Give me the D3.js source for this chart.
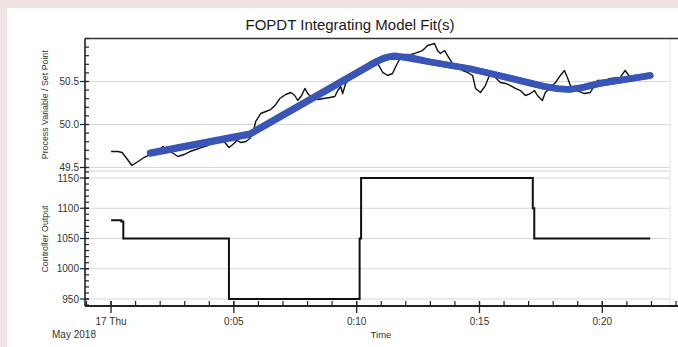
<!DOCTYPE html>
<html><head><meta charset="utf-8">
<script src="https://cdn.jsdelivr.net/npm/d3@7"></script>
<style>
html,body{margin:0;padding:0;background:#f1e3e3;}
svg{display:block;font-family:"Liberation Sans",Arial,sans-serif;}
</style></head>
<body>
<svg id="c" width="678" height="347"></svg>
<script>
// ---- data (minutes since 0:00, 17 Thu May 2018) ----
const pvTime = [0,0.28,0.45,0.61,0.85,1.10,1.34,1.59,1.83,2.00,2.11,2.24,2.48,2.72,2.97,3.21,3.46,3.70,3.94,4.15,4.35,4.51,4.67,4.80,4.96,5.12,5.28,5.49,5.65,5.77,5.89,6.10,6.30,6.50,6.71,6.87,7.11,7.32,7.48,7.60,7.76,7.89,8.01,8.17,8.41,8.66,8.90,9.11,9.23,9.35,9.43,9.55,9.76,10.04,10.33,10.57,10.77,10.93,11.06,11.26,11.46,11.63,11.79,12.07,12.36,12.68,12.89,13.17,13.29,13.41,13.58,13.70,13.90,14.11,14.31,14.51,14.72,14.84,15.04,15.24,15.45,15.65,15.85,16.06,16.26,16.46,16.67,16.87,17.07,17.24,17.36,17.56,17.68,17.89,18.09,18.29,18.46,18.58,18.70,18.98,19.27,19.51,19.80,20.08,20.33,20.73,20.93,21.14,21.42,21.71,21.95];
const pvValue = [49.686,49.686,49.674,49.616,49.523,49.570,49.616,49.651,49.686,49.709,49.744,49.698,49.674,49.628,49.651,49.686,49.709,49.733,49.756,49.802,49.802,49.826,49.779,49.733,49.767,49.814,49.791,49.802,49.837,49.895,50.035,50.128,50.151,50.174,50.233,50.302,50.349,50.372,50.337,50.279,50.337,50.419,50.360,50.314,50.291,50.302,50.314,50.326,50.395,50.442,50.360,50.477,50.547,50.616,50.674,50.733,50.744,50.674,50.605,50.570,50.593,50.698,50.779,50.802,50.826,50.860,50.919,50.942,50.860,50.826,50.860,50.802,50.709,50.674,50.628,50.605,50.570,50.419,50.372,50.453,50.605,50.547,50.488,50.477,50.453,50.419,50.395,50.337,50.360,50.395,50.337,50.279,50.372,50.430,50.488,50.570,50.628,50.547,50.453,50.395,50.360,50.372,50.512,50.512,50.535,50.547,50.628,50.547,50.535,50.558,50.581];

const fit1Time  = [1.59,5.65,11.10,11.55,13.0,14.59,16.3,17.6,18.2,18.7,19.2,19.88,21.95];
const fit1Value = [49.663,49.884,50.775,50.800,50.725,50.650,50.535,50.445,50.415,50.408,50.430,50.477,50.570];
const fit2Time  = [1.59,5.65,10.80,11.35,12.1,13.0,14.59,16.3,17.6,18.2,18.7,19.2,19.88,21.95];
const fit2Value = [49.672,49.893,50.735,50.790,50.785,50.728,50.650,50.535,50.445,50.415,50.408,50.430,50.477,50.570];

const coTime  = [0,0.42,0.5,4.8,10.12,10.18,17.17,17.23,21.95];
const coValue = [1080,1078,1050,950,1050,1150,1100,1050,1050];

const xTickValues = [0,5,10,15,20];
const xTickLabels = ["17 Thu","0:05","0:10","0:15","0:20"];
const pvTicks = [49.5,50.0,50.5];
const pvTickLabels = ["49.5","50.0","50.5"];
const coTicks = [950,1000,1050,1100,1150];
const coTickLabels = ["950","1000","1050","1100","1150"];

// ---- layout ----
const svg = d3.select("#c");
svg.append("rect").attr("x",7).attr("y",8).attr("width",671).attr("height",339).attr("fill","#ffffff");

const L = 85, R = 676, lineR = 678;
const topT = 38.5, topB = 171, botT = 172, botB = 306;

const x = d3.scaleLinear().domain([-1.06, 23.0]).range([L, R]);
const yPV = d3.scaleLinear().domain([49.5, 51.0]).range([167.5, 38.5]);
const yCO = d3.scaleLinear().domain([950, 1150]).range([299, 178]);

const grid = "#d9d6d6";
svg.append("g").selectAll("line").data(pvTicks).join("line")
  .attr("x1",L).attr("x2",670).attr("y1",d=>yPV(d)).attr("y2",d=>yPV(d))
  .attr("stroke",grid).attr("stroke-width",1.2);
svg.append("line").attr("x1",L).attr("x2",670).attr("y1",topB).attr("y2",topB).attr("stroke","#cfcaca").attr("stroke-width",1);
svg.append("g").selectAll("line").data(coTicks).join("line")
  .attr("x1",L).attr("x2",670).attr("y1",d=>yCO(d)).attr("y2",d=>yCO(d))
  .attr("stroke",grid).attr("stroke-width",1.2);
svg.append("line").attr("x1",670).attr("x2",670).attr("y1",topT).attr("y2",botB).attr("stroke","#e6e2e2").attr("stroke-width",1);

// title
svg.append("text").attr("x",350).attr("y",30).attr("text-anchor","middle")
  .attr("font-size",15).attr("fill","#1a1a1a").text("FOPDT Integrating Model Fit(s)");

svg.append("line").attr("x1",L).attr("x2",lineR).attr("y1",topT).attr("y2",topT).attr("stroke","#333").attr("stroke-width",1.3);

const defs = svg.append("defs");
defs.append("clipPath").attr("id","clipTop").append("rect").attr("x",L).attr("y",topT).attr("width",R-L).attr("height",topB-topT);

const gTop = svg.append("g").attr("clip-path","url(#clipTop)");
const linePV = d3.line().x(d=>x(d[0])).y(d=>yPV(d[1]));

gTop.append("path").datum(pvTime.map((t,i)=>[t,pvValue[i]]))
  .attr("d",linePV).attr("fill","none").attr("stroke","#111").attr("stroke-width",1.4).attr("stroke-linejoin","round");

const lineFit = d3.line().x(d=>x(d[0])).y(d=>yPV(d[1]));
[[fit2Time,fit2Value],[fit1Time,fit1Value]].forEach(([tt,vv])=>{
  gTop.append("path").datum(tt.map((t,i)=>[t,vv[i]]))
    .attr("d",lineFit).attr("fill","none").attr("stroke","#3a55b8").attr("stroke-width",6.5)
    .attr("stroke-linecap","round").attr("stroke-linejoin","round");
});

const lineCO = d3.line().x(d=>x(d[0])).y(d=>yCO(d[1])).curve(d3.curveStepAfter);
svg.append("path").datum(coTime.map((t,i)=>[t,coValue[i]]))
  .attr("d",lineCO).attr("fill","none").attr("stroke","#111").attr("stroke-width",2);

const axc = "#222";
svg.append("line").attr("x1",L).attr("x2",L).attr("y1",topT).attr("y2",botB).attr("stroke",axc).attr("stroke-width",1.6);
const pvMinor = d3.range(49.5, 51.0001, 0.1);
svg.append("g").selectAll("line").data(pvMinor).join("line")
  .attr("x1",L).attr("x2",L+4).attr("y1",d=>yPV(d)).attr("y2",d=>yPV(d)).attr("stroke",axc).attr("stroke-width",1.2);
svg.append("g").selectAll("line").data(pvTicks).join("line")
  .attr("x1",L-5).attr("x2",L+4).attr("y1",d=>yPV(d)).attr("y2",d=>yPV(d)).attr("stroke",axc).attr("stroke-width",1.2);
svg.append("g").selectAll("text").data(pvTicks).join("text")
  .attr("x",L-6).attr("y",d=>yPV(d)+3.5).attr("text-anchor","end").attr("font-size",10).attr("fill","#333")
  .text((d,i)=>pvTickLabels[i]);
const coMinor = d3.range(940, 1161, 10);
svg.append("g").selectAll("line").data(coMinor).join("line")
  .attr("x1",L).attr("x2",L+4).attr("y1",d=>yCO(d)).attr("y2",d=>yCO(d)).attr("stroke",axc).attr("stroke-width",1.2);
svg.append("g").selectAll("line").data(coTicks).join("line")
  .attr("x1",L-5).attr("x2",L+4).attr("y1",d=>yCO(d)).attr("y2",d=>yCO(d)).attr("stroke",axc).attr("stroke-width",1.2);
svg.append("g").selectAll("text").data(coTicks).join("text")
  .attr("x",L-6).attr("y",d=>yCO(d)+3.5).attr("text-anchor","end").attr("font-size",10).attr("fill","#333")
  .text((d,i)=>coTickLabels[i]);

svg.append("text").attr("transform",`translate(48,${(topT+topB)/2}) rotate(-90)`)
  .attr("text-anchor","middle").attr("font-size",8.8).attr("fill","#333").text("Process Variable / Set Point");
svg.append("text").attr("transform",`translate(48,239) rotate(-90)`)
  .attr("text-anchor","middle").attr("font-size",8.8).attr("fill","#333").text("Controller Output");

svg.append("line").attr("x1",L).attr("x2",lineR).attr("y1",botB).attr("y2",botB).attr("stroke",axc).attr("stroke-width",1.8);
const xMinor = d3.range(-1, 23.01, 1);
svg.append("g").selectAll("line").data(xMinor).join("line")
  .attr("x1",d=>x(d)).attr("x2",d=>x(d)).attr("y1",botB-5).attr("y2",botB).attr("stroke",axc).attr("stroke-width",1.2);
svg.append("g").selectAll("line").data(xTickValues).join("line")
  .attr("x1",d=>x(d)).attr("x2",d=>x(d)).attr("y1",botB-5).attr("y2",botB+7).attr("stroke",axc).attr("stroke-width",1.3);
svg.append("g").selectAll("text").data(xTickValues).join("text")
  .attr("x",d=>x(d)).attr("y",325).attr("text-anchor","middle").attr("font-size",10).attr("fill","#333")
  .text((d,i)=>xTickLabels[i]);
svg.append("text").attr("x",74).attr("y",338).attr("text-anchor","middle").attr("font-size",10).attr("fill","#333").text("May 2018");
svg.append("text").attr("x",381).attr("y",338).attr("text-anchor","middle").attr("font-size",9.5).attr("fill","#333").text("Time");
</script>
</body></html>
